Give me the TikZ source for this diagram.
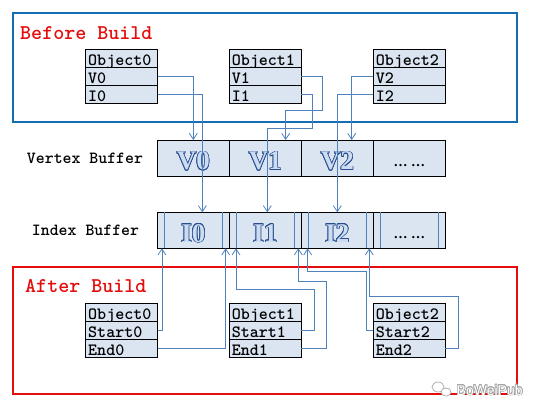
\documentclass[tikz,border=0pt]{standalone}
\usepackage{fontspec}
\setmainfont{Liberation Serif}
\setsansfont{Liberation Sans}
\newfontfamily\boxfont{lmmonolt10-bold.otf}
\usepackage{contour}
\usepackage{tikz}
\usetikzlibrary{positioning,arrows.meta,calc}
\definecolor{lnk}{RGB}{79,129,189}
\definecolor{cellbg}{RGB}{219,229,241}
\definecolor{frmb}{RGB}{20,110,180}
\definecolor{frmr}{RGB}{228,12,12}
\definecolor{gly}{RGB}{40,78,145}
\definecolor{glybg}{RGB}{205,220,240}
\contourlength{0.7pt}
\newcommand{\bufglyph}[1]{\contour{gly}{\textcolor{glybg}{#1}}}

\begin{document}
\begin{tikzpicture}[x=1pt,y=-1pt,node distance=0pt,>={Straight Barb[length=6pt,width=8pt]},
  rowbox/.style={draw,line width=0.8pt,fill=cellbg,font=\boxfont\fontsize{17.2}{17.2}\selectfont,
    text width=67pt,align=left,inner xsep=2.5pt,inner ysep=0pt,outer sep=0pt,minimum height=18pt,text height=14.8pt,text depth=0pt},
  bufcell/.style={draw,line width=0.8pt,fill=cellbg,minimum width=72pt,minimum height=36pt,inner sep=0pt,outer sep=0pt},
  bufglyph/.style={bufcell,font=\bfseries\fontsize{27}{27}\selectfont,text height=23.5pt,text depth=0pt},
  bufdots/.style={bufcell,font=\bfseries\fontsize{14}{14}\selectfont,text height=16pt,text depth=0pt},
  lnk/.style={draw=lnk,line width=0.8pt},
  lbl/.style={font=\boxfont\fontsize{17}{17}\selectfont,inner sep=0pt},
  title/.style={text=frmr,font=\boxfont\fontsize{21}{21}\selectfont,inner sep=0pt}]
  \useasboundingbox (0,0) rectangle (546,408);
  % frames
  \draw[frmb,line width=2.2pt] (13,13) rectangle (517,122);
  \draw[frmr,line width=2.2pt] (13,267) rectangle (517,394);
  \node[title,anchor=base west] (before) at (20,39) {Before Build};
  \node[title,anchor=base west] (after) at (25,292.7) {After Build};
  % objects before build
  \node[rowbox,anchor=north west] (ob0) at (85.7,49.3) {Object0};
  \node[rowbox,below=of ob0] (ov0) {V0}; \node[rowbox,below=of ov0] (oi0) {I0};
  \node[rowbox,anchor=north west] (ob1) at (229.3,49.3) {Object1};
  \node[rowbox,below=of ob1] (ov1) {V1}; \node[rowbox,below=of ov1] (oi1) {I1};
  \node[rowbox,anchor=north west] (ob2) at (373.3,49.3) {Object2};
  \node[rowbox,below=of ob2] (ov2) {V2}; \node[rowbox,below=of ov2] (oi2) {I2};
  % buffers
  \node[lbl,anchor=base] (vlbl) at (85,163.3) {Vertex Buffer};
  \node[lbl,anchor=base] (ilbl) at (85.5,235.3) {Index Buffer};
  \node[bufglyph,anchor=north west] (vb0) at (157.3,140) {\bufglyph{V0}};
  \node[bufglyph,right=of vb0] (vb1) {\bufglyph{V1}};
  \node[bufglyph,right=of vb1] (vb2) {\bufglyph{V2}};
  \node[bufdots,right=of vb2] (vb3) {\ldots\ \ldots};
  \node[bufglyph,anchor=north west] (ib0) at (157.3,212.3) {\bufglyph{I0}};
  \node[bufglyph,right=of ib0] (ib1) {\bufglyph{I1}};
  \node[bufglyph,right=of ib1] (ib2) {\bufglyph{I2}};
  \node[bufdots,right=of ib2] (ib3) {\ldots\ \ldots};
  \foreach \c in {0,...,3}{
    \draw[lnk] ($(ib\c.north west)+(7,0)$) -- ($(ib\c.south west)+(7,0)$);
    \draw[lnk] ($(ib\c.north east)+(-7,0)$) -- ($(ib\c.south east)+(-7,0)$);}
  % objects after build
  \node[rowbox,anchor=north west] (ab0) at (85.7,303.3) {Object0};
  \node[rowbox,below=of ab0] (as0) {Start0}; \node[rowbox,below=of as0] (ae0) {End0};
  \node[rowbox,anchor=north west] (ab1) at (229.3,303.3) {Object1};
  \node[rowbox,below=of ab1] (as1) {Start1}; \node[rowbox,below=of as1] (ae1) {End1};
  \node[rowbox,anchor=north west] (ab2) at (373.3,303.3) {Object2};
  \node[rowbox,below=of ab2] (as2) {Start2}; \node[rowbox,below=of as2] (ae2) {End2};
  % links before build
  \draw[lnk,->] (ov0.east) -| (vb0.north);
  \draw[lnk,->] (oi0.east) -| ($(ib0.north)+(9,0)$);
  \draw[lnk,->] (ov1.east) -| (322,110) -| ($(vb1.north)+(20.4,0)$);
  \draw[lnk,->] (oi1.east) -| (312.7,128.7) -| ($(ib1.north)+(2,0)$);
  \draw[lnk,->] (ov2.west) -| ($(vb2.north)+(14.4,0)$);
  \draw[lnk,->] (oi2.west) -| (ib2.north);
  % links after build
  \draw[lnk,->] (as0.east) -| ($(ib0.south west)+(4.6,0)$);
  \draw[lnk,->] (ae0.east) -| ($(ib0.south east)+(-3.6,0)$);
  \draw[lnk,->] (as1.east) -| (314,289.3) -| ($(ib1.south west)+(6.7,0)$);
  \draw[lnk,->] (ae1.east) -| (326.7,281) -| ($(ib1.south east)+(-3,0)$);
  \draw[lnk,->] (as2.west) -| (366,271.7) -| ($(ib2.south west)+(6.4,0)$);
  \draw[lnk,->] (ae2.east) -| (458.7,296.7) -| ($(ib2.south east)+(-4,0)$);
  % watermark
  \draw[gray!60,fill=white,line width=0.8pt] (438,387) ellipse [x radius=6,y radius=5];
  \draw[gray!60,fill=white,line width=0.8pt] (446,392) ellipse [x radius=5,y radius=4];
  \node[font=\sffamily\fontsize{14}{14}\selectfont,anchor=base west,inner sep=0pt] (wm) at (456.5,395)
    {\contour{gray!70}{\textcolor{white}{BoWeiPub}}};
\end{tikzpicture}
\end{document}
